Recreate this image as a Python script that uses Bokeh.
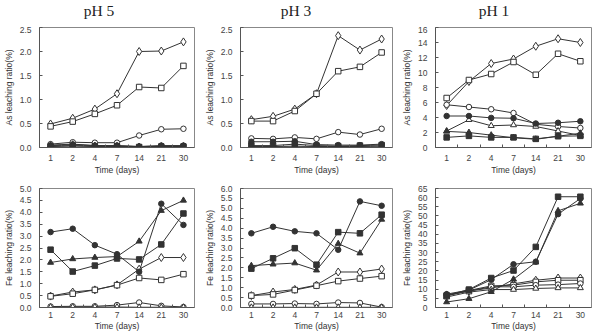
from bokeh.plotting import figure
from bokeh.layouts import gridplot, column
from bokeh.models import Range1d, FixedTicker
from bokeh.core.properties import value
from bokeh.embed import file_html
from bokeh.resources import INLINE

days = ["1", "2", "4", "7", "14", "21", "30"]
series_names = ["open_diamond", "open_square", "open_circle", "open_triangle",
                "filled_circle", "filled_square", "filled_triangle"]

# As leaching ratio (%)
as_ph5 = {
    "open_diamond":    [0.49, 0.61, 0.80, 1.12, 2.00, 2.01, 2.20],
    "open_square":     [0.44, 0.54, 0.70, 0.88, 1.26, 1.24, 1.70],
    "open_circle":     [0.07, 0.11, 0.10, 0.10, 0.25, 0.38, 0.39],
    "open_triangle":   [0.05, 0.07, 0.04, 0.03, 0.02, 0.02, 0.02],
    "filled_circle":   [0.04, 0.06, 0.04, 0.04, 0.02, 0.04, 0.04],
    "filled_square":   [0.02, 0.03, 0.02, 0.02, 0.01, 0.02, 0.02],
    "filled_triangle": [0.03, 0.04, 0.03, 0.03, 0.02, 0.03, 0.03],
}
as_ph3 = {
    "open_diamond":    [0.58, 0.65, 0.80, 1.12, 2.33, 2.03, 2.26],
    "open_square":     [0.55, 0.55, 0.76, 1.12, 1.59, 1.68, 1.98],
    "open_circle":     [0.19, 0.18, 0.21, 0.18, 0.32, 0.27, 0.39],
    "open_triangle":   [0.01, 0.01, 0.01, 0.01, 0.01, 0.01, 0.01],
    "filled_circle":   [0.12, 0.12, 0.13, 0.06, 0.05, 0.05, 0.07],
    "filled_square":   [0.04, 0.04, 0.07, 0.04, 0.03, 0.04, 0.05],
    "filled_triangle": [0.02, 0.02, 0.03, 0.02, 0.02, 0.02, 0.03],
}
as_ph1 = {
    "open_diamond":    [5.6, 8.8, 11.2, 11.8, 13.5, 14.5, 14.0],
    "open_square":     [6.6, 9.0, 9.8, 11.4, 9.7, 12.5, 11.5],
    "open_circle":     [5.7, 5.4, 5.1, 4.6, 3.1, 2.8, 2.6],
    "open_triangle":   [2.2, 3.7, 2.9, 3.0, 2.8, 2.2, 1.6],
    "filled_circle":   [4.2, 4.2, 3.95, 3.9, 3.2, 3.3, 3.5],
    "filled_square":   [1.35, 1.55, 1.35, 1.35, 1.15, 1.5, 1.55],
    "filled_triangle": [2.15, 2.0, 1.65, 1.3, 1.1, 1.5, 1.9],
}

# Fe leaching ratio (%)
fe_ph5 = {
    "open_diamond":    [0.48, 0.65, 0.74, 0.95, 1.61, 2.10, 2.10],
    "open_square":     [0.47, 0.58, 0.74, 0.94, 1.24, 1.16, 1.40],
    "open_circle":     [0.04, 0.05, 0.05, 0.10, 0.21, 0.07, 0.02],
    "open_triangle":   [0.02, 0.02, 0.02, 0.02, 0.01, 0.01, 0.01],
    "filled_circle":   [3.17, 3.31, 2.62, 2.24, 1.50, 4.36, 3.47],
    "filled_square":   [2.43, 1.51, 1.76, 2.06, 2.02, 2.65, 3.95],
    "filled_triangle": [1.89, 2.04, 2.10, 2.14, 2.78, 4.07, 4.50],
}
fe_ph3 = {
    "open_diamond":    [0.60, 0.78, 0.91, 1.13, 1.79, 1.79, 1.94],
    "open_square":     [0.60, 0.66, 0.88, 1.10, 1.33, 1.46, 1.58],
    "open_circle":     [0.18, 0.18, 0.20, 0.18, 0.25, 0.23, 0.02],
    "open_triangle":   [0.01, 0.01, 0.01, 0.01, 0.01, 0.01, 0.01],
    "filled_circle":   [3.74, 4.07, 3.84, 3.74, 2.91, 5.35, 5.13],
    "filled_square":   [1.96, 2.48, 2.99, 2.16, 3.80, 3.74, 4.68],
    "filled_triangle": [2.11, 2.18, 2.24, 1.88, 3.22, 2.74, 4.44],
}
fe_ph1 = {
    "open_diamond":    [6.8, 9.0, 10.7, 12.9, 14.9, 16.1, 16.1],
    "open_square":     [6.3, 9.3, 11.8, 12.2, 14.0, 14.9, 14.9],
    "open_circle":     [6.6, 9.0, 11.3, 11.3, 12.2, 12.5, 13.1],
    "open_triangle":   [5.7, 8.4, 9.8, 9.8, 10.4, 10.7, 10.7],
    "filled_circle":   [7.3, 9.5, 15.2, 23.6, 25.0, 51.0, 59.5],
    "filled_square":   [6.6, 9.8, 16.1, 20.2, 33.1, 60.5, 60.5],
    "filled_triangle": [3.0, 4.8, 8.6, 15.4, 24.7, 52.8, 56.9],
}

titles = ["pH 5", "pH 3", "pH 1"]
as_ticks = [[0, 0.5, 1.0, 1.5, 2.0, 2.5], [0, 0.5, 1.0, 1.5, 2.0, 2.5], list(range(0, 17, 2))]
fe_ticks = [[0, 0.5, 1.0, 1.5, 2.0, 2.5, 3.0, 3.5, 4.0, 4.5, 5.0],
            [0, 0.5, 1.0, 1.5, 2.0, 2.5, 3.0, 3.5, 4.0, 4.5, 5.0, 5.5, 6.0],
            list(range(0, 66, 5))]

LINE = "#333333"
FONT = "Liberation Sans"

marker_style = {
    "open_diamond":    ("diamond", 8, "white"),
    "open_square":     ("square", 5.5, "white"),
    "open_circle":     ("circle", 5.5, "white"),
    "open_triangle":   ("triangle", 6, "white"),
    "filled_circle":   ("circle", 5.5, LINE),
    "filled_square":   ("square", 5.5, LINE),
    "filled_triangle": ("triangle", 6, LINE),
}

# layout geometry per column: (min_border_left, frame_width, min_border_right)
cols = [(36, 155, 6), (40, 152, 5), (38, 156, 5)]
TITLE_H = 26


def make_panel(col, data, yticks, ylabel, top_row, fmt1=True):
    bl, fw, br = cols[col]
    if top_row:
        bt, fh, bb = 1, 120, 20
    else:
        bt, fh, bb = 11, 119, 24
    p = figure(frame_width=fw, frame_height=fh, output_backend="svg",
               toolbar_location=None, min_border_left=bl, min_border_right=br,
               min_border_top=bt, min_border_bottom=bb,
               x_range=Range1d(0, 7), y_range=Range1d(yticks[0], yticks[-1]))
    p.grid.visible = False
    p.outline_line_color = "#888888"
    p.background_fill_color = "white"
    p.border_fill_color = "white"

    xs = [i + 0.5 for i in range(len(days))]
    for name in series_names:
        ys = data[name]
        m, size, fill = marker_style[name]
        p.line(xs, ys, line_color=LINE, line_width=1)
        p.scatter(xs, ys, marker=m, size=size, fill_color=fill, line_color=LINE, line_width=1)

    xa = p.xaxis[0]
    xa.ticker = FixedTicker(ticks=xs, minor_ticks=[1, 2, 3, 4, 5, 6])
    xa.major_label_overrides = {x: d for x, d in zip(xs, days)}
    xa.major_tick_in = 0
    xa.major_tick_out = 0
    xa.minor_tick_in = 3
    xa.minor_tick_out = 0
    xa.axis_label = "Time (days)"
    xa.major_label_standoff = 7 if top_row else 4
    xa.axis_label_standoff = 1 if top_row else 0

    ya = p.yaxis[0]
    ya.ticker = FixedTicker(ticks=yticks)
    if fmt1:
        ya.major_label_overrides = {t: "%.1f" % t for t in yticks}
    else:
        ya.major_label_overrides = {t: "%d" % t for t in yticks}
    ya.major_tick_in = 3
    ya.major_tick_out = 0
    ya.minor_tick_in = 0
    ya.minor_tick_out = 0
    ya.axis_label = ylabel
    ya.major_label_standoff = 8
    ya.axis_label_standoff = 3

    for ax in (xa, ya):
        ax.axis_line_color = "#555555"
        ax.major_tick_line_color = "#555555"
        ax.minor_tick_line_color = "#555555"
        ax.major_label_text_font = FONT
        ax.major_label_text_font_size = "8.5px"
        ax.major_label_text_color = "#444444"
        ax.axis_label_text_font = FONT
        ax.axis_label_text_font_size = "8.5px"
        ax.axis_label_text_font_style = "normal"
        ax.axis_label_text_color = "#333333"
    return p


# title strip spanning the three columns
total_w = sum(bl + fw + br for bl, fw, br in cols)
centers = []
acc = 0
for bl, fw, br in cols:
    centers.append(acc + (bl + fw + br) / 2)
    acc += bl + fw + br
tfig = figure(frame_width=total_w, frame_height=TITLE_H, output_backend="svg",
              toolbar_location=None, x_axis_location=None, y_axis_location=None,
              min_border_left=0, min_border_right=0, min_border_top=0, min_border_bottom=0,
              x_range=Range1d(0, total_w), y_range=Range1d(0, TITLE_H))
tfig.grid.visible = False
tfig.outline_line_color = None
tfig.text(x=centers, y=[TITLE_H - 10] * 3, text=titles,
          text_font=value("Liberation Serif"), text_font_size="15.5px",
          text_align="center", text_baseline="middle", text_color="#222222")

top = [
    make_panel(0, as_ph5, as_ticks[0], "As leaching ratio(%)", True),
    make_panel(1, as_ph3, as_ticks[1], "As leaching ratio(%)", True),
    make_panel(2, as_ph1, as_ticks[2], "As leaching ratio(%)", True, fmt1=False),
]
bottom = [
    make_panel(0, fe_ph5, fe_ticks[0], "Fe leaching ratio(%)", False),
    make_panel(1, fe_ph3, fe_ticks[1], "Fe leaching ratio(%)", False),
    make_panel(2, fe_ph1, fe_ticks[2], "Fe leaching ratio(%)", False, fmt1=False),
]

grid = gridplot([top, bottom], toolbar_location=None)
layout = column(tfig, grid, spacing=0)
open("out.html", "w").write(file_html(layout, INLINE))
